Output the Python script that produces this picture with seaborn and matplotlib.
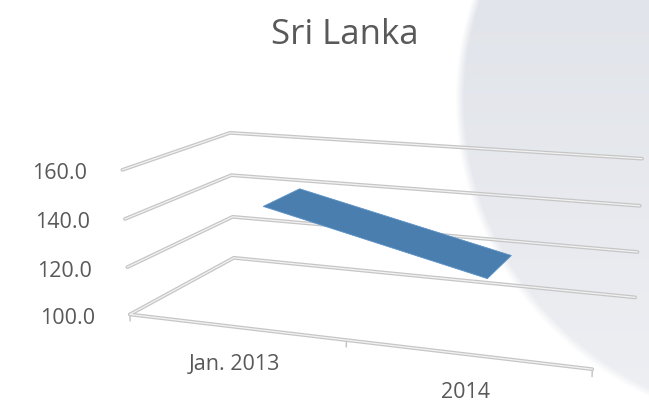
import numpy as np
import matplotlib.pyplot as plt
import seaborn as sns
from mpl_toolkits.mplot3d import proj3d
from mpl_toolkits.mplot3d.art3d import Poly3DCollection

# data
categories = ["Jan. 2013", "2014"]
values = [143.0, 121.7]
z_ticks = [100.0, 120.0, 140.0, 160.0]
title = "Sri Lanka"

sns.set_theme(style="white")
plt.rcParams['font.family'] = ['Open Sans', 'DejaVu Sans']

text_col = "#595959"
ribbon_col = "#4a7eae"

W, H = 649, 404
fig = plt.figure(figsize=(W / 100, H / 100), dpi=100)
fig.patch.set_facecolor("white")

# soft grey circle of the slide background
bg = fig.add_axes([0, 0, 1, 1], zorder=-5)
bg.set_axis_off()
yy, xx = np.mgrid[0:H, 0:W]
r = np.sqrt(((xx - 800) / 345.0) ** 2 + ((yy - 100) / 330.0) ** 2)
inside = np.clip((1.0 - r) / 0.025, 0, 1)
top = np.array([0xe1, 0xe4, 0xea]) / 255
bottom = np.array([0xee, 0xef, 0xf3]) / 255
t = np.clip(yy / H, 0, 1)[..., None]
col = top * (1 - t) + bottom * t
img = np.ones((H, W, 3)) * (1 - inside[..., None]) + col * inside[..., None]
bg.imshow(img, aspect="auto", interpolation="bilinear")

# 3d axes, view fitted to the excel camera (rotation x=20, y=14, perspective)
ax = fig.add_axes([0.0895, -0.0975, 1.0, 1.0], projection="3d", computed_zorder=False)
ax.set_axis_off()
ax.patch.set_alpha(0)

n = len(categories)
zmin, zmax = z_ticks[0], z_ticks[-1]
ax.set_xlim(0, n)
ax.set_ylim(0, 1)
ax.set_zlim(zmin, zmax)
ax.set_box_aspect((1, 0.4956, 0.316), zoom=1.2874)
ax.view_init(elev=14.14, azim=-70.11)
ax.set_proj_type("persp", focal_length=0.5837)


def grid_line(xs, ys, zs):
    ax.plot(xs, ys, zs, color="#c6c6c6", lw=2.7, solid_capstyle="round", zorder=1, clip_on=False)
    ax.plot(xs, ys, zs, color="#f2f2f2", lw=0.9, solid_capstyle="round", zorder=2, clip_on=False)


# gridlines on the side and back walls
for z in z_ticks:
    grid_line([0, 0, n], [0, 1, 1], [z, z, z])
# floor front edge + ticks
grid_line([0, n], [0, 0], [zmin, zmin])
for i in range(n + 1):
    ax.plot([i, i], [0, 0], [zmin, zmin - 2.8], color="#c6c6c6", lw=1.1, zorder=1, clip_on=False)

# ribbon for the series
x_pos = np.arange(n) + 0.5
y0, y1 = 0.30, 0.69
verts = []
for i in range(n - 1):
    verts.append([(x_pos[i], y0, values[i]), (x_pos[i], y1, values[i]),
                  (x_pos[i + 1], y1, values[i + 1]), (x_pos[i + 1], y0, values[i + 1])])
poly = Poly3DCollection(verts, facecolor=ribbon_col, edgecolor="#5b92c8", lw=0.6, zorder=5)
poly.set_clip_on(False)
ax.add_collection3d(poly)

# labels, anchored on the projected axis points
M = ax.get_proj()
for z in z_ticks:
    px, py, _ = proj3d.proj_transform(0, 0, z, M)
    ax.annotate(f"{z:.1f}", xy=(px, py), xycoords="data", xytext=(-35, -4),
                textcoords="offset pixels", ha="right", va="center", fontsize=15.5,
                color=text_col, annotation_clip=False)
for i, c in enumerate(categories):
    px, py, _ = proj3d.proj_transform(x_pos[i], 0, zmin, M)
    ax.annotate(c, xy=(px, py), xycoords="data", xytext=(0, -38),
                textcoords="offset pixels", ha="center", va="center", fontsize=15.5,
                color=text_col, annotation_clip=False)

fig.text(0.532, 0.913, title, ha="center", va="center", fontsize=25, color=text_col)

fig.savefig("out.png", dpi=100)
